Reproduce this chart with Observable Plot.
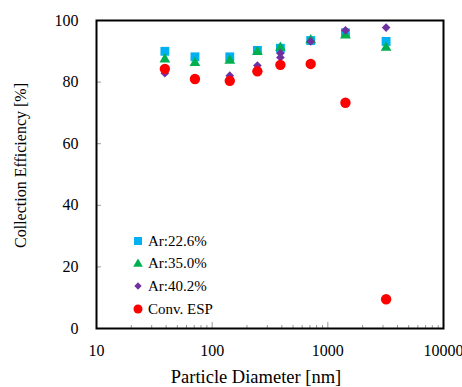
<!DOCTYPE html>
<html>
<head>
<meta charset="utf-8">
<script src="https://cdn.jsdelivr.net/npm/d3@7"></script>
<script src="https://cdn.jsdelivr.net/npm/@observablehq/plot@0.6"></script>
<style>
  html, body { margin: 0; padding: 0; background: #fff; }
  #wrap { position: relative; width: 462px; height: 387px; font-family: "Liberation Serif", "Times New Roman", serif; }
  #chart svg, #chart svg text { font-family: "Liberation Serif", "Times New Roman", serif !important; }
  #legend { position: absolute; left: 133px; top: 230px; font-size: 15px; color: #000; }
  .row { display: flex; align-items: center; height: 22.6px; }
  .row svg { width: 10px; height: 10px; margin-right: 5px; }
</style>
</head>
<body>
<div id="wrap"><div id="chart"></div><div id="legend"></div></div>
<script>
// Data
const diam = [39, 71, 142, 246, 389, 711, 1420, 3190];
const ar226 = [90.0, 88.2, 88.2, 90.3, 91.0, 93.5, 96.0, 93.2];
const ar350 = [87.4, 86.2, 87.0, 89.8, 91.2, 93.6, 95.2, 91.2];
const diam402 = [39, 71, 142, 246, 389, 389, 711, 1420, 3190];
const ar402 = [82.9, 81.0, 82.1, 85.4, 89.4, 88.0, 93.2, 96.8, 97.7];
const espVals = [84.3, 81.0, 80.4, 83.5, 85.6, 85.9, 73.3, 9.5];

const seriesNames = ["Ar:22.6%", "Ar:35.0%", "Ar:40.2%", "Conv. ESP"];
const seriesColors = ["#00B0F0", "#00B050", "#7030A0", "#FF0000"];
const seriesSymbols = ["square", "triangle", "diamond2", "circle"];

const xTickLabels = [10, 100, 1000, 10000];
const yTickLabels = [0, 20, 40, 60, 80, 100];
const xMinorTicks = xTickLabels.slice(0, -1).flatMap(d => [2,3,4,5,6,7,8,9].map(k => k * d));

const xTitle = "Particle Diameter [nm]";
const yTitle = "Collection Efficiency [%]";

const serif = '"Liberation Serif", "Times New Roman", serif';
const rows = (xs, ys) => xs.map((x, i) => ({x, y: ys[i]}));
const dS = rows(diam, ar226), dT = rows(diam, ar350), dD = rows(diam402, ar402), dC = rows(diam, espVals);

const chart = Plot.plot({
  width: 462, height: 387,
  marginLeft: 96, marginRight: 19, marginTop: 20, marginBottom: 59,
  style: { fontFamily: serif, fontSize: "16px", color: "#000", background: "#fff", overflow: "visible" },
  x: { type: "log", domain: [10, 10000] },
  y: { domain: [0, 100] },
  marks: [
    Plot.axisX(xMinorTicks, { anchor: "bottom", tickSize: -3, stroke: "#999", tickFormat: () => "", label: null }),
    Plot.axisX(xTickLabels, { anchor: "bottom", tickSize: -6, stroke: "#999", tickPadding: 22, tickFormat: d => String(d), label: null, fontSize: 16, fontFamily: serif }),
    Plot.axisY(yTickLabels, { anchor: "left", tickSize: -5, stroke: "#999", tickPadding: 23, tickFormat: d => String(d), label: null, fontSize: 16, fontFamily: serif }),
    Plot.frame({ stroke: "#000", strokeWidth: 2 }),
    Plot.dot(dS, { x: "x", y: "y", symbol: seriesSymbols[0], fill: seriesColors[0], r: 5.0 }),
    Plot.dot(dT, { x: "x", y: "y", symbol: seriesSymbols[1], fill: seriesColors[1], r: 4.0 }),
    Plot.dot(dD, { x: "x", y: "y", symbol: seriesSymbols[2], fill: seriesColors[2], r: 3.9 }),
    Plot.dot(dC, { x: "x", y: "y", symbol: seriesSymbols[3], fill: seriesColors[3], r: 5.2 }),
    Plot.text([xTitle], { frameAnchor: "bottom", dx: -14, dy: 54, fontSize: 18.5, lineAnchor: "bottom", fontFamily: serif }),
    Plot.text([yTitle], { frameAnchor: "left", textAnchor: "middle", rotate: -90, dx: -76, dy: -9, fontSize: 16, lineAnchor: "middle", fontFamily: serif })
  ]
});
document.getElementById("chart").appendChild(chart);

// Legend (inside the plot area, as in the reference)
const symMap = { circle: d3.symbolCircle, square: d3.symbolSquare, triangle: d3.symbolTriangle, diamond2: d3.symbolDiamond2 };
const legendSizes = [64, 40, 34, 64];
const legend = document.getElementById("legend");
seriesNames.forEach((name, i) => {
  const row = document.createElement("div");
  row.className = "row";
  const sym = d3.symbol(symMap[seriesSymbols[i]], legendSizes[i])();
  row.innerHTML = `<svg viewBox="-5 -5 10 10"><path d="${sym}" fill="${seriesColors[i]}"></path></svg><span>${name}</span>`;
  legend.appendChild(row);
});
</script>
</body>
</html>
